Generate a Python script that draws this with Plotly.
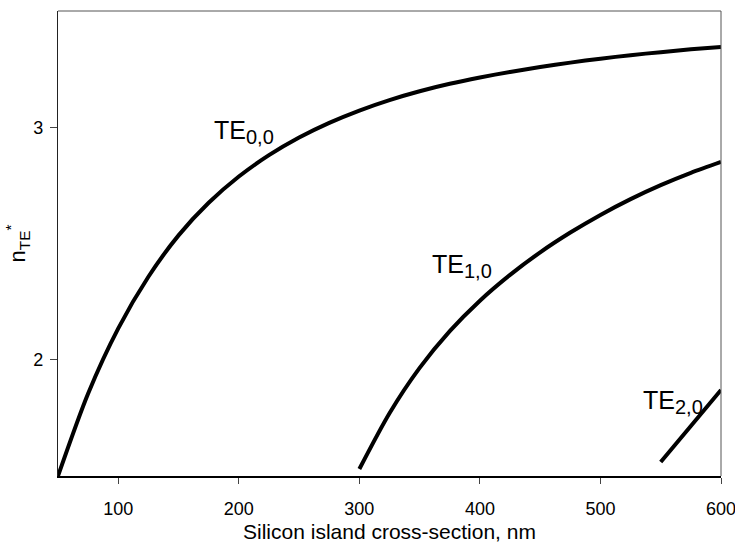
import plotly.graph_objects as go

# Data
te00_x = [50, 75, 100, 125, 150, 175, 200, 225, 250, 275, 300, 325, 350, 375, 400,
          425, 450, 475, 500, 525, 550, 575, 600]
te00_y = [1.50, 1.855, 2.135, 2.357, 2.535, 2.675, 2.788, 2.880, 2.956, 3.019, 3.072, 3.117,
          3.155, 3.187, 3.214, 3.238, 3.259, 3.278, 3.295, 3.310, 3.323, 3.335, 3.345]

te10_x = [300, 325, 350, 375, 400, 425, 450, 475, 500, 525, 550, 575, 600]
te10_y = [1.53, 1.77, 1.965, 2.123, 2.254, 2.365, 2.462, 2.547, 2.623, 2.691, 2.751, 2.804, 2.851]

te20_x = [550, 575, 600]
te20_y = [1.56, 1.715, 1.87]

x_ticks = [100, 200, 300, 400, 500, 600]
y_ticks = [2, 3]

label_main = ["TE", "TE", "TE"]
label_sub = ["0,0", "1,0", "2,0"]
label_x = [177.5, 359, 533.4]
label_y = [2.979, 2.404, 1.819]

FONT = "Liberation Sans, Arial, sans-serif"

fig = go.Figure()
for xs, ys in [(te00_x, te00_y), (te10_x, te10_y), (te20_x, te20_y)]:
    fig.add_trace(go.Scatter(x=xs, y=ys, mode="lines",
                             line=dict(color="black", width=4, shape="spline", smoothing=0.8),
                             showlegend=False, hoverinfo="skip"))

for m, s, lx, ly in zip(label_main, label_sub, label_x, label_y):
    fig.add_annotation(x=lx, y=ly,
                       text=f"{m}<sub><span style='font-size:20px'>{s}</span></sub>",
                       showarrow=False, xanchor="left", yanchor="middle",
                       font=dict(family=FONT, size=25, color="black"))

# top and right frame lines (grey)
fig.add_shape(type="line", xref="paper", yref="paper", x0=0, x1=1, y0=1, y1=1,
              line=dict(color="#555555", width=1))
fig.add_shape(type="line", xref="paper", yref="paper", x0=1, x1=1, y0=0, y1=1,
              line=dict(color="#555555", width=1))

fig.update_layout(
    width=735, height=545,
    margin=dict(l=58, r=14, t=11, b=69),
    paper_bgcolor="white", plot_bgcolor="white",
    font=dict(family=FONT, size=18, color="black"),
    xaxis=dict(range=[50, 600], tickvals=x_ticks, ticks="outside", ticklen=6, tickcolor="#444",
               ticklabelstandoff=10, ticklabeloverflow="allow", automargin=False,
               showline=True, linecolor="black", linewidth=1.5, showgrid=False, zeroline=False,
               title=dict(text="Silicon island cross-section, nm", font=dict(size=21), standoff=6)),
    yaxis=dict(range=[1.5, 3.5], tickvals=y_ticks, ticks="outside", ticklen=7, tickcolor="#444",
               ticklabelstandoff=3, automargin=False,
               showline=True, linecolor="#222", linewidth=1.2, showgrid=False, zeroline=False,
               title=dict(text="n<sub>TE</sub><sup>*</sup>", font=dict(size=22), standoff=1)),
)

fig.write_html("out.html")
